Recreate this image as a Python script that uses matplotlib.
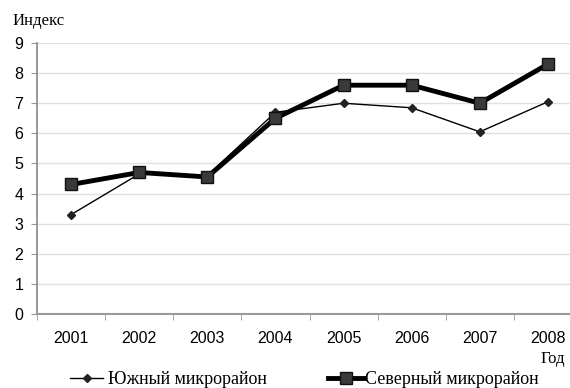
import numpy as np
import matplotlib.pyplot as plt

# Данные
years = ["2001", "2002", "2003", "2004", "2005", "2006", "2007", "2008"]
south = [3.3, 4.65, 4.6, 6.7, 7.0, 6.85, 6.05, 7.05]
north = [4.3, 4.7, 4.55, 6.5, 7.6, 7.6, 7.0, 8.3]

serif = "Liberation Serif"
sans = "Liberation Sans"

fig = plt.figure(figsize=(5.7, 3.88), dpi=100)
ax = fig.add_axes([0.065, 0.191, 0.956, 0.698])

x = np.arange(len(years))
l1, = ax.plot(x, south, color="black", lw=1.0, marker="D", ms=4.5,
              mfc="#222222", mec="#222222", label="Южный микрорайон")
l2, = ax.plot(x, north, color="black", lw=3.5, marker="s", ms=9,
              mfc="#3a3a3a", mec="#111111", mew=1.0, label="Северный микрорайон")

ax.set_xlim(-0.5, len(years) - 0.5)
ax.set_ylim(0, 9)
ax.set_yticks(range(0, 10))
ax.set_xticks(x)
ax.set_xticklabels(years, fontfamily=sans, fontsize=11.5)
ax.set_xticks(np.arange(-0.5, len(years)), minor=True)
ax.tick_params(axis="x", which="major", length=0, pad=12)
ax.tick_params(axis="x", which="minor", length=4, color="#999999")
ax.tick_params(axis="y", length=4, color="#999999", pad=6)
for lab in ax.get_yticklabels():
    lab.set_fontfamily(sans)
    lab.set_fontsize(11.5)

ax.grid(axis="y", color="#e0e0e0", lw=1.0)
ax.set_axisbelow(True)
for side in ["top", "right"]:
    ax.spines[side].set_visible(False)
ax.spines["left"].set_color("#888888")
ax.spines["bottom"].set_color("#999999")
ax.spines["left"].set_linewidth(1.2)
ax.spines["bottom"].set_linewidth(1.5)

fig.text(0.022, 0.935, "Индекс", fontfamily=serif, fontsize=12)
fig.text(0.992, 0.075, "Год", fontfamily=serif, fontsize=12,
         ha="right", va="center")

# легенда в две части под осью
leg_font = {"family": serif, "size": 13}
fig.legend(handles=[l1], loc="center left", bbox_to_anchor=(0.123, 0.021),
           frameon=False, prop=leg_font, borderpad=0, borderaxespad=0,
           handlelength=1.83, handletextpad=0.28)
fig.legend(handles=[l2], loc="center left", bbox_to_anchor=(0.575, 0.021),
           frameon=False, prop=leg_font, borderpad=0, borderaxespad=0,
           handlelength=2.0, handletextpad=0.05)

fig.savefig("out.png", dpi=100)
